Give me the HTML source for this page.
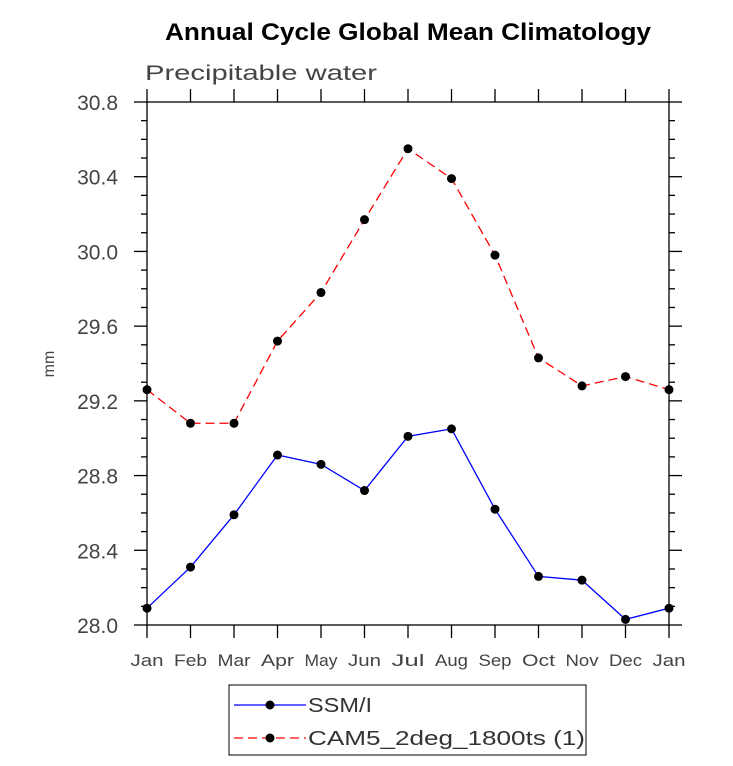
<!DOCTYPE html>
<html><head><meta charset="utf-8"><style>
body{margin:0;background:#fff;width:733px;height:761px;overflow:hidden}
text{font-family:"Liberation Sans",sans-serif}
</style></head><body>
<svg id="c" width="733" height="761">
<text x="165" y="40" textLength="486" lengthAdjust="spacingAndGlyphs" font-size="24" font-weight="bold">Annual Cycle Global Mean Climatology</text>
<text x="145" y="80" font-size="21" fill="#444" textLength="232" lengthAdjust="spacingAndGlyphs">Precipitable water</text>
<text x="54" y="364" font-size="16" fill="#444" transform="rotate(-90 54 364)" text-anchor="middle">mm</text>
<g id="axes"></g><g id="series"></g>
<rect x="229" y="685" width="357" height="70" fill="none" stroke="#000" stroke-width="1"/>
<g>
<line x1="234" y1="705" x2="306" y2="705" stroke="#00f" stroke-width="1.3"/><circle cx="270" cy="705" r="4.5"/>
<text x="308" y="712" font-size="20" fill="#333" textLength="64" lengthAdjust="spacingAndGlyphs">SSM/I</text></g>
<g>
<line x1="234" y1="738" x2="306" y2="738" stroke="#f00" stroke-width="1.3" stroke-dasharray="9,5"/><circle cx="270" cy="738" r="4.5"/>
<text x="308" y="745" font-size="20" fill="#333" textLength="277" lengthAdjust="spacingAndGlyphs">CAM5_2deg_1800ts (1)</text></g>
</svg>
<script>
const months=["Jan","Feb","Mar","Apr","May","Jun","Jul","Aug","Sep","Oct","Nov","Dec","Jan"];
const ssmi=[28.09,28.31,28.59,28.91,28.86,28.72,29.01,29.05,28.62,28.26,28.24,28.03,28.09];
const cam5=[29.26,29.08,29.08,29.52,29.78,30.17,30.55,30.39,29.98,29.43,29.28,29.33,29.26];
const yTicks=["28.0","28.4","28.8","29.2","29.6","30.0","30.4","30.8"];
const X0=147,X1=669,Y0=625,Y1=102,YMIN=28.0,YMAX=30.8;
const ns="http://www.w3.org/2000/svg";
const xs=i=>X0+(X1-X0)*i/(months.length-1);
const ys=v=>Y0-(v-YMIN)/(YMAX-YMIN)*(Y0-Y1);
const ax=document.getElementById('axes'),se=document.getElementById('series');
function mk(tag,at,p){const e=document.createElementNS(ns,tag);for(const k in at)e.setAttribute(k,at[k]);p.appendChild(e);return e;}
const fr=mk('rect',{x:X0,y:Y1,width:X1-X0,height:Y0-Y1,fill:'none',stroke:'#000','stroke-width':1.3},ax);


months.forEach((m,i)=>{const x=xs(i);
 mk('line',{x1:x,y1:Y0,x2:x,y2:Y0+13,stroke:'#000','stroke-width':1.3},ax);
 mk('line',{x1:x,y1:Y1,x2:x,y2:Y1-13,stroke:'#000','stroke-width':1.3},ax);
 const t=mk('text',{x:x,y:Y0+41,'text-anchor':'middle','font-size':17,fill:'#444',textLength:m.length*11,lengthAdjust:'spacingAndGlyphs'},ax);t.textContent=m;
 
 
});
for(let v=0;v<=28;v++){const val=YMIN+v*0.1,y=ys(val),maj=v%4===0,L=maj?13:6;
 mk('line',{x1:X0,y1:y,x2:X0-L,y2:y,stroke:'#000','stroke-width':1.3},ax);
 mk('line',{x1:X1,y1:y,x2:X1+L,y2:y,stroke:'#000','stroke-width':1.3},ax);
}
yTicks.forEach(s=>{const y=ys(parseFloat(s));
 const t=mk('text',{x:118,y:y+8,'text-anchor':'end','font-size':21,fill:'#444'},ax);t.textContent=s;
 
 
});
function series(d,col,dash,name){
 const p=mk('polyline',{points:d.map((v,i)=>xs(i)+','+ys(v)).join(' '),fill:'none',stroke:col,'stroke-width':1.3,'stroke-dasharray':dash},se);
 
 
 d.forEach((v,i)=>{const c=mk('circle',{cx:xs(i),cy:ys(v),r:4.5},se);
  
  });
}
series(cam5,'#f00','9,5','cam5');
series(ssmi,'#00f','none','ssmi');
</script>
</body></html>
